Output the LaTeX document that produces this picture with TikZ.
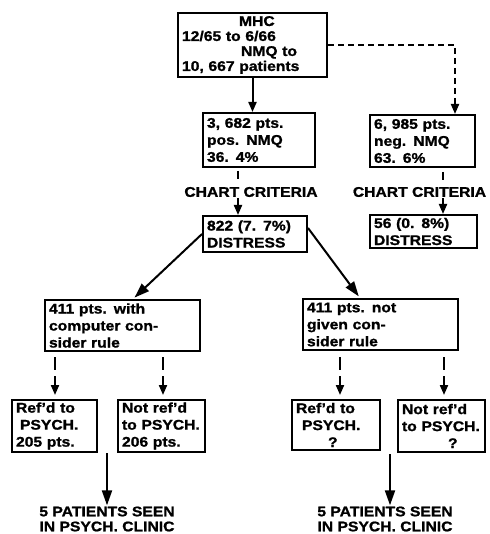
\documentclass[tikz,border=0pt]{standalone}
\usepackage{fontspec}
\setmainfont{Liberation Sans}[FakeStretch=1.12, BoldFeatures={FakeBold=1.2}]
\usetikzlibrary{arrows.meta,calc}
\begin{document}
\begin{tikzpicture}[x=1pt,y=-1pt,
  box/.style={draw, line width=2pt, align=left, inner xsep=4pt, inner ysep=0pt,
    font=\fontsize{14}{17}\selectfont\bfseries},
  lbl/.style={align=center, inner sep=1pt, font=\fontsize{14}{15}\selectfont\bfseries},
  ln/.style={line width=2pt},
  arr/.style={line width=2pt, -{Triangle[length=10pt,width=8pt]}},
  bigarr/.style={line width=2pt, -{Triangle[length=15pt,width=10pt]}}]
\useasboundingbox (0,0) rectangle (489,534);

% boxes
\node[box, text width=141pt, minimum height=64pt, font=\fontsize{14}{15}\selectfont\bfseries] (mhc) at (252.5,45)
  {\hspace*{57pt}MHC\\12/65 to 6/66\\\hspace*{59pt}NMQ to\\10, 667 patients};
\node[box, text width=104pt, minimum height=54pt] (pos) at (259,140)
  {3, 682 pts.\\pos. NMQ\\36. 4\%};
\node[box, text width=97pt, minimum height=52pt] (neg) at (422.5,141)
  {6, 985 pts.\\neg. NMQ\\63. 6\%};
\node[box, text width=96pt, minimum height=36pt] (d1) at (255,234)
  {822 (7. 7\%)\\DISTRESS};
\node[box, text width=99pt, minimum height=33pt] (d2) at (423.5,231.5)
  {56 (0. 8\%)\\DISTRESS};
\node[box, text width=147pt, minimum height=51pt] (with) at (122.5,325.5)
  {411 pts. with\\computer con-\\sider rule};
\node[box, text width=147pt, minimum height=51pt] (notg) at (380.5,324.5)
  {411 pts. not\\given con-\\sider rule};
\node[box, text width=77pt, minimum height=52pt] (r1) at (54.5,426)
  {Ref'd to\\\hspace*{4pt}PSYCH.\\205 pts.};
\node[box, text width=79pt, minimum height=52pt] (n1) at (161.5,426)
  {Not ref'd\\to PSYCH.\\206 pts.};
\node[box, text width=80pt, minimum height=50pt] (r2) at (336,425)
  {Ref'd to\\\hspace*{6pt}PSYCH.\\\hspace*{32pt}?};
\node[box, text width=79pt, minimum height=52pt] (n2) at (441.5,426)
  {Not ref'd\\to PSYCH.\\\hspace*{46pt}?};

% labels
\node[lbl] (cc1) at (251,192) {CHART CRITERIA};
\node[lbl] (cc2) at (419.5,192) {CHART CRITERIA};
\node[lbl] (p1) at (107,519) {5 PATIENTS SEEN\\IN PSYCH. CLINIC};
\node[lbl] (p2) at (385,519) {5 PATIENTS SEEN\\IN PSYCH. CLINIC};

% top connectors
\draw[arr] (mhc.south) -- (mhc.south |- pos.north);
\coordinate (dc) at (455,45);
\draw[arr, dash pattern=on 6pt off 4pt] (mhc.east) -- (dc) -- (dc |- neg.north);

% chart criteria ticks and arrows
\coordinate (t1a) at (238,171);
\coordinate (t1b) at (238,179);
\draw[ln] (t1a) -- (t1b);
\draw[arr] (cc1.south -| t1a) -- (d1.north -| t1a);
\coordinate (t2a) at (443,172);
\coordinate (t2b) at (443,180);
\draw[ln] (t2a) -- (t2b);
\draw[arr] (cc2.south -| t2a) -- (d2.north -| t2a);

% diagonals
\draw[bigarr, shorten >=2pt] (d1.west) -- ($(with.north)+(10.5,0)$);
\draw[bigarr, shorten >=2pt] ($(d1.east)+(0,-6)$) -- ($(notg.north)+(-20.5,0)$);

% lower ticks and arrows
\foreach \x/\src/\dst in {55/with/r1, 163/with/n1, 340/notg/r2, 444/notg/n2} {
  \coordinate (ta) at (\x,357);
  \coordinate (tb) at (\x,370);
  \coordinate (tc) at (\x,376);
  \draw[ln] (ta) -- (tb);
  \draw[arr, shorten >=4pt] (tc) -- (tc |- \dst.north);
}

% bottom arrows
\coordinate (b1) at (107,0);
\draw[bigarr] (b1 |- r1.south) -- (b1 |- p1.north);
\coordinate (b2) at (390,0);
\draw[bigarr] ($(b2 |- r2.south)+(0,3)$) -- (b2 |- p2.north);
\end{tikzpicture}
\end{document}
